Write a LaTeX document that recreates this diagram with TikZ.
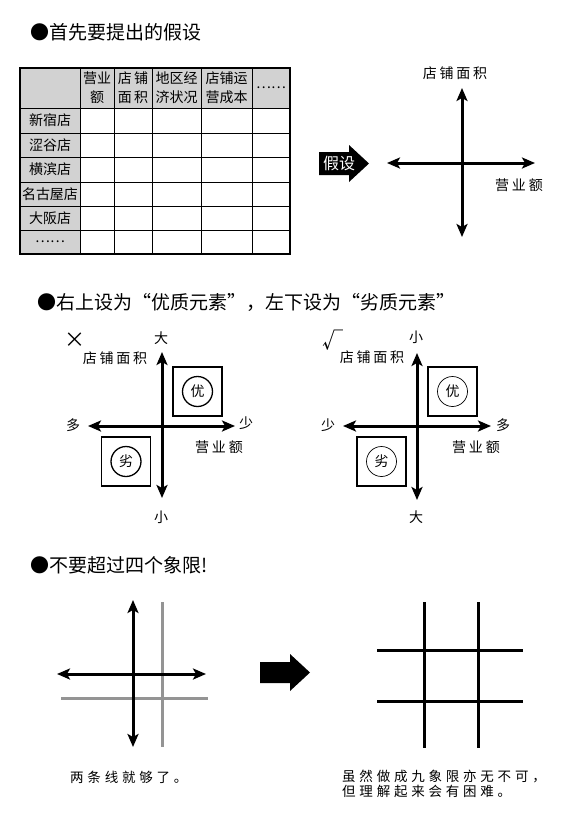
\documentclass[tikz,border=0pt]{standalone}
\usepackage{fontspec}
\newfontfamily\cjk{Noto Sans CJK SC}
\newfontfamily\cjktrack[LetterSpace=20]{Noto Sans CJK SC}
\newfontfamily\cjkcap[LetterSpace=28]{Noto Sans CJK SC}
\usetikzlibrary{arrows.meta, positioning}
\tikzset{
    heading/.style={font=\cjk\fontsize{19}{22}\selectfont, anchor=west, inner sep=0pt},
    lbl/.style={font=\cjktrack\fontsize{14}{16}\selectfont, inner sep=0pt},
    tick/.style={font=\cjk\fontsize{21}{23}\selectfont, inner sep=0pt},
    cell/.style={font=\cjk\fontsize{14}{19}\selectfont, align=center, inner sep=0pt},
    caption/.style={font=\cjkcap\fontsize{13.5}{15}\selectfont, anchor=west, align=left, inner sep=0pt},
    axis/.style={line width=3pt, {Stealth[length=13pt,width=11pt,inset=3pt]}-{Stealth[length=13pt,width=11pt,inset=3pt]}},
    bar/.style={line width=3pt},
    faint/.style={line width=3pt, draw=black!42},
    quad/.style={draw, line width=1.8pt, minimum size=49pt, inner sep=0pt},
    ring/.style={circle, draw, line width=1.3pt, minimum size=30pt, inner sep=0pt, font=\cjk\fontsize{14}{16}\selectfont},
    thinring/.style={ring, line width=0.7pt},
}
\begin{document}
\begin{tikzpicture}[x=1pt, y=-1pt]
    \useasboundingbox (0,0) rectangle (567,828);

    % headings
    \node [heading] (t1) at (30,32) {●首先要提出的假设};
    \node [heading] (t2) at (37,302) {●右上设为“优质元素”，左下设为“劣质元素”};
    \node [heading] (t3) at (30,565) {●不要超过四个象限!};

    % table
    \fill [gray!35] (20,68) rectangle (290,108);
    \fill [gray!35] (20,108) rectangle (80,254);
    \foreach \x in {80,114,152,201,252}
        \draw [line width=0.9pt] (\x,68) -- (\x,254);
    \foreach \y in {108,133,157,182,206,230}
        \draw [line width=0.9pt] (20,\y) -- (290,\y);
    \draw [line width=2pt] (20,68) rectangle (290,254);
    \node [cell] (h1) at (97,88) {营业\\额};
    \node [cell] (h2) at (133,88) {店\,铺\\面\,积};
    \node [cell] (h3) at (176.5,88) {地区经\\济状况};
    \node [cell] (h4) at (226.5,88) {店铺运\\营成本};
    \node [cell] (h5) at (271,88) {……};
    \foreach \y/\shop [count=\i] in {120.5/新宿店, 145/涩谷店, 169.5/横滨店, 194/名古屋店, 218/大阪店, 242/……}
        \node [cell] (r\i) at (50,\y) {\shop};

    % hypothesis arrow
    \fill (319,152) -- (349,152) -- (349,145) -- (369,163.5) -- (349,182) -- (349,175) -- (319,175) -- cycle;
    \node [cell, text=white, font=\cjk\fontsize{16}{18}\selectfont] (hypo) at (339,163.5) {假设};

    % first axes
    \coordinate (aT) at (462,88);
    \coordinate (aB) at (462,237);
    \coordinate (aL) at (387,163);
    \coordinate (aR) at (535,163);
    \draw [axis] (aB) -- (aT);
    \draw [axis] (aL) -- (aR);
    \node [lbl] (ay) at (455,73) {店铺面积};
    \node [lbl] (ax) at (519,185) {营业额};

    % good / bad, version one
    \coordinate (bT) at (162,352);
    \coordinate (bB) at (162,498);
    \coordinate (bL) at (88,426);
    \coordinate (bR) at (235,426);
    \draw [axis] (bB) -- (bT);
    \draw [axis] (bL) -- (bR);
    \node [lbl] (bbig) at (161,338) {大};
    \node [lbl] (bsmall) at (161,517) {小};
    \node [lbl] (bmany) at (73,425) {多};
    \node [lbl] (bfew) at (246,423) {少};
    \node [lbl] (bx) at (219,447) {营业额};
    \node [lbl] (by) at (115,358) {店铺面积};
    \node [tick] (bno) at (75,340) {×};
    \node [quad] (bgood) at (197.5,391.5) {};
    \node [ring] at (bgood) {优};
    \node [quad] (bbad) at (126,461.5) {};
    \node [ring] at (bbad) {劣};

    % good / bad, version two
    \coordinate (cT) at (417,353);
    \coordinate (cB) at (417,500);
    \coordinate (cL) at (343,426);
    \coordinate (cR) at (491,426);
    \draw [axis] (cB) -- (cT);
    \draw [axis] (cL) -- (cR);
    \node [lbl] (csmall) at (416,337) {小};
    \node [lbl] (cbig) at (416,517) {大};
    \node [lbl] (cfew) at (328,425) {少};
    \node [lbl] (cmany) at (503,425) {多};
    \node [lbl] (cx) at (476,447) {营业额};
    \node [lbl] (cy) at (372,357) {店铺面积};
    \node [tick] (cyes) at (333,340) {√};
    \node [quad] (cgood) at (452.5,391.5) {};
    \node [thinring] at (cgood) {优};
    \node [quad] (cbad) at (381.5,461.5) {};
    \node [thinring] at (cbad) {劣};

    % two lines
    \draw [faint] (162,602) -- (162,747);
    \draw [faint] (61,698) -- (208,698);
    \coordinate (dT) at (133,600);
    \coordinate (dB) at (133,747);
    \coordinate (dL) at (57,674);
    \coordinate (dR) at (206,674);
    \draw [axis] (dB) -- (dT);
    \draw [axis] (dL) -- (dR);
    \node [caption] (dcap) at (70,777) {两条线就够了。};

    % arrow between
    \fill (260,662) -- (290,662) -- (290,654) -- (310,672.5) -- (290,691) -- (290,683) -- (260,683) -- cycle;

    % nine quadrants
    \foreach \x in {424,478}
        \draw [bar] (\x,602) -- (\x,748);
    \foreach \y in {650,701}
        \draw [bar] (377,\y) -- (523,\y);
    \node [caption] (ecap) at (342,783.5) {虽然做成九象限亦无不可，\\但理解起来会有困难。};
\end{tikzpicture}
\end{document}
